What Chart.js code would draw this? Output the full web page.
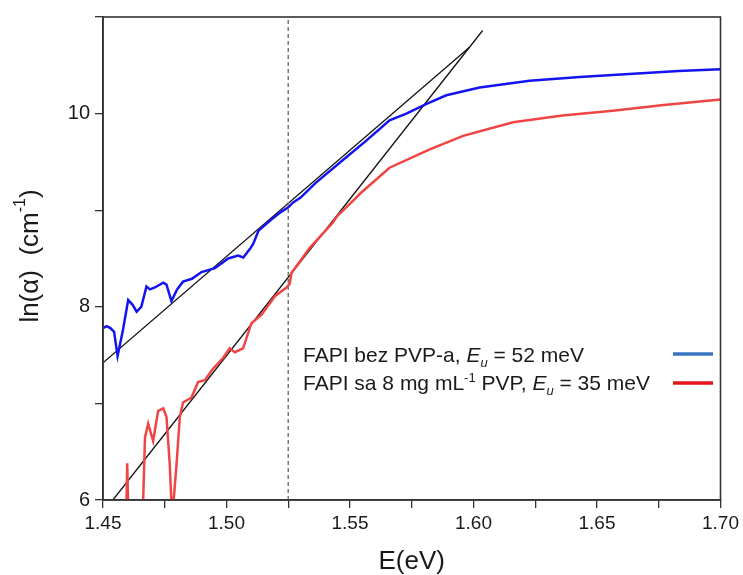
<!DOCTYPE html>
<html>
<head>
<meta charset="utf-8">
<script src="https://cdn.jsdelivr.net/npm/chart.js@4.4.0/dist/chart.umd.min.js"></script>
<style>
  body { margin: 0; background: #fff; }
  #wrap { width: 743px; height: 575px; }
</style>
</head>
<body>
<div id="wrap"><canvas id="absChart"></canvas></div>
<script>
// FAPI without PVP (blue)
var blueE  = [1.450, 1.4515, 1.453, 1.4545, 1.4559, 1.458, 1.4602, 1.462, 1.4636, 1.4655, 1.4676, 1.469, 1.471, 1.4744, 1.4757, 1.4777, 1.480, 1.4824, 1.486, 1.4899, 1.4953, 1.5007, 1.5047, 1.5068, 1.5095, 1.5108, 1.513, 1.518, 1.522, 1.525, 1.527, 1.530, 1.536, 1.5486, 1.5566, 1.566, 1.5728, 1.581, 1.589, 1.6025, 1.6227, 1.643, 1.663, 1.683, 1.700];
var blueLn = [7.78, 7.80, 7.78, 7.74, 7.49, 7.75, 8.07, 8.02, 7.95, 8.00, 8.21, 8.18, 8.20, 8.25, 8.23, 8.06, 8.18, 8.26, 8.29, 8.36, 8.40, 8.50, 8.53, 8.51, 8.60, 8.65, 8.79, 8.90, 8.98, 9.03, 9.08, 9.13, 9.28, 9.55, 9.72, 9.93, 10.00, 10.10, 10.19, 10.27, 10.34, 10.38, 10.41, 10.44, 10.46];

// FAPI with 8 mg/mL PVP (red)
var redE  = [1.4594, 1.4598, 1.4603, 1.4655, 1.4663, 1.467, 1.4683, 1.4703, 1.4723, 1.4744, 1.4757, 1.477, 1.478, 1.4798, 1.4811, 1.4824, 1.4858, 1.4885, 1.4912, 1.4946, 1.4986, 1.5013, 1.5034, 1.5067, 1.5101, 1.5142, 1.5196, 1.5243, 1.5256, 1.5263, 1.5337, 1.543, 1.5445, 1.5525, 1.554, 1.566, 1.5823, 1.5958, 1.616, 1.636, 1.6564, 1.677, 1.700];
var redLn = [5.80, 6.38, 5.80, 5.50, 6.03, 6.65, 6.79, 6.61, 6.92, 6.95, 6.86, 6.38, 5.80, 6.38, 6.86, 7.01, 7.06, 7.22, 7.24, 7.36, 7.47, 7.57, 7.53, 7.57, 7.83, 7.92, 8.11, 8.20, 8.24, 8.35, 8.61, 8.87, 8.93, 9.13, 9.17, 9.44, 9.63, 9.77, 9.91, 9.98, 10.03, 10.09, 10.145];

// Urbach tail fits and marker
var fitBlueE  = [1.450, 1.5985];
var fitBlueLn = [7.42, 10.69];
var fitRedE   = [1.454, 1.6037];
var fitRedLn  = [6.00, 10.86];
var markE  = [1.525, 1.525];
var markLn = [6, 11];

var xMajor = [1.45, 1.50, 1.55, 1.60, 1.65, 1.70];
var yMajor = [6, 8, 10];

function pts(xs, ys) {
  return xs.map(function (x, i) { return { x: x, y: ys[i] }; });
}

var frame = {
  id: 'frame',
  afterDraw: function (chart) {
    var c = chart.ctx, a = chart.chartArea;
    c.save();
    c.strokeStyle = '#333';
    c.lineWidth = 1.6;
    c.strokeRect(a.left, a.top, a.right - a.left, a.bottom - a.top);

    // legend
    var lx = 303, ly1 = 356, ly2 = 384;
    c.fillStyle = '#1a1a1a';
    c.textBaseline = 'middle';
    c.textAlign = 'left';
    var f = '21px "Liberation Sans", Arial, sans-serif';
    var fi = 'italic 21px "Liberation Sans", Arial, sans-serif';
    var fs = '13px "Liberation Sans", Arial, sans-serif';
    var fsi = 'italic 13px "Liberation Sans", Arial, sans-serif';
    function run(parts, x, y) {
      parts.forEach(function (p) {
        c.font = p[1];
        c.fillText(p[0], x, y + (p[2] || 0));
        x += c.measureText(p[0]).width;
      });
    }
    run([['FAPI bez PVP-a, ', f], ['E', fi], ['u', fsi, 7], [' = 52 meV', f]], lx, ly1);
    run([['FAPI sa 8 mg mL', f], ['-1', fs, -6], [' PVP, ', f], ['E', fi], ['u', fsi, 7], [' = 35 meV', f]], lx, ly2);
    c.lineWidth = 3.5;
    c.strokeStyle = '#3a74c0';
    c.beginPath(); c.moveTo(673, ly1 - 2); c.lineTo(713, ly1 - 2); c.stroke();
    c.strokeStyle = '#e8141c';
    c.beginPath(); c.moveTo(673, ly2 - 1); c.lineTo(713, ly2 - 1); c.stroke();

    // y title with superscript
    c.translate(31, 256);
    c.rotate(-Math.PI / 2);
    var tf = '26px "Liberation Sans", Arial, sans-serif';
    var ts = '16px "Liberation Sans", Arial, sans-serif';
    var parts = [['ln(\u03b1)  (cm', tf], ['-1', ts, -10], [')', tf]];
    var w = 0;
    parts.forEach(function (p) { c.font = p[1]; w += c.measureText(p[0]).width; });
    run(parts, -w / 2, 0);
    c.restore();
  }
};

var lineStyle = { pointRadius: 0, fill: false, tension: 0, showLine: true };

new Chart(document.getElementById('absChart'), {
  type: 'scatter',
  data: {
    datasets: [
      Object.assign({ data: pts(markE, markLn), borderColor: '#777', borderWidth: 1.5, borderDash: [4, 3] }, lineStyle),
      Object.assign({ data: pts(blueE, blueLn), borderColor: '#1414f0', borderWidth: 2.5 }, lineStyle),
      Object.assign({ data: pts(redE, redLn), borderColor: '#f04545', borderWidth: 2.5 }, lineStyle),
      Object.assign({ data: pts(fitBlueE, fitBlueLn), borderColor: '#111', borderWidth: 1.3 }, lineStyle),
      Object.assign({ data: pts(fitRedE, fitRedLn), borderColor: '#111', borderWidth: 1.3 }, lineStyle)
    ]
  },
  options: {
    responsive: true,
    maintainAspectRatio: false,
    animation: false,
    layout: { padding: { top: 15, right: 21, left: 0, bottom: 0 } },
    plugins: { legend: { display: false }, tooltip: { enabled: false } },
    scales: {
      x: {
        type: 'linear', min: 1.45, max: 1.70,
        afterFit: function (s) { s.height = 75; },
        afterBuildTicks: function (s) {
          var t = [];
          for (var i = 0; i <= 10; i++) t.push({ value: 1.45 + i * 0.025 });
          s.ticks = t;
        },
        grid: { drawOnChartArea: false, tickLength: 8, color: '#333', lineWidth: 1.3 },
        border: { color: '#333', width: 1.6 },
        ticks: {
          color: '#1a1a1a', padding: 4, autoSkip: false, maxRotation: 0,
          font: { family: '"Liberation Sans", Arial, sans-serif', size: 19 },
          callback: function (v) {
            var m = xMajor.find(function (x) { return Math.abs(x - v) < 1e-6; });
            return m === undefined ? '' : m.toFixed(2);
          }
        },
        title: {
          display: true, text: 'E(eV)', color: '#1a1a1a', padding: { top: 0, bottom: 0 },
          font: { family: '"Liberation Sans", Arial, sans-serif', size: 26, lineHeight: 1.0 }
        }
      },
      y: {
        min: 6, max: 11,
        afterFit: function (s) { s.width = 103; },
        afterBuildTicks: function (s) {
          s.ticks = [6, 7, 8, 9, 10, 11].map(function (v) { return { value: v }; });
        },
        grid: { drawOnChartArea: false, tickLength: 8, color: '#333', lineWidth: 1.3 },
        border: { color: '#333', width: 1.6 },
        ticks: {
          color: '#1a1a1a', padding: 5, autoSkip: false,
          font: { family: '"Liberation Sans", Arial, sans-serif', size: 20 },
          callback: function (v) { return yMajor.indexOf(v) >= 0 ? String(v) : ''; }
        }
      }
    }
  },
  plugins: [frame]
});
</script>
</body>
</html>
